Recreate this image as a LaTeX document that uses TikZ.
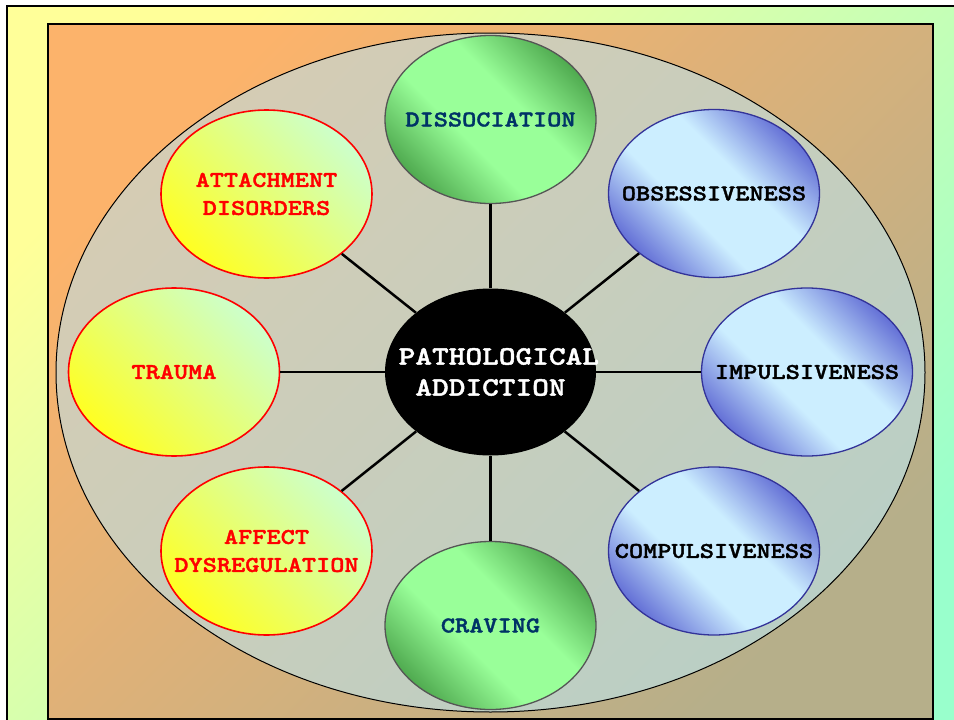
\documentclass[tikz,border=0pt]{standalone}
\usepackage{fontspec}
\newfontfamily\slabmono{lmmonolt10-bold}[Extension=.otf,FakeStretch=1.2,FakeBold=1.6]
\usepackage{tikz}
\usetikzlibrary{shapes.geometric}

\definecolor{bgyellow}{HTML}{FFFF99}
\definecolor{bgaqua}{HTML}{99FFCC}
\definecolor{panelorange}{HTML}{FCB36B}
\definecolor{paneltan}{HTML}{B6AF8A}
\definecolor{ovaltop}{HTML}{D5CCB4}
\definecolor{ovalbottom}{HTML}{BACFC5}
\definecolor{bluedark}{HTML}{5F6AD4}
\definecolor{bluelight}{HTML}{CCEEFF}
\definecolor{blueline}{HTML}{333399}
\definecolor{greendark}{HTML}{4CA64C}
\definecolor{greenlight}{HTML}{99FF99}
\definecolor{greenline}{HTML}{555555}
\definecolor{greentext}{HTML}{003366}
\definecolor{yellowhot}{HTML}{FFFF22}
\definecolor{yellowpale}{HTML}{CCFFCC}

\pgfdeclareverticalshading{blueband}{100bp}{color(0bp)=(bluedark); color(24bp)=(bluedark); color(42bp)=(bluelight); color(58bp)=(bluelight); color(76bp)=(bluedark); color(100bp)=(bluedark)}
\pgfdeclareverticalshading{greenband}{100bp}{color(0bp)=(greendark); color(24bp)=(greendark); color(42bp)=(greenlight); color(58bp)=(greenlight); color(76bp)=(greendark); color(100bp)=(greendark)}

\begin{document}
\begin{tikzpicture}[x=1pt,y=-1pt,
    bubble/.style={ellipse,minimum width=211pt,minimum height=168pt,inner sep=0pt},
    word/.style={align=center,inner sep=0pt,font=\slabmono\fontsize{22.5}{28}\selectfont},
    yellowbubble/.style={bubble,draw=red,line width=1.6pt,
        top color=yellowpale,bottom color=yellowhot,shading angle=-45},
    bluebubble/.style={bubble,draw=blueline,line width=1.3pt,
        shading=blueband,shading angle=-45},
    greenbubble/.style={bubble,draw=greenline,line width=1.3pt,
        shading=greenband,shading angle=-45},
    spoke/.style={line width=2.5pt,black}]
        \useasboundingbox (0,0) rectangle (954,720);
        \clip (0,0) rectangle (954,720);
        \fill[white] (0,0) rectangle (954,720);
        % frame and panel
        \draw[line width=2pt,top color=bgyellow,bottom color=bgaqua,shading angle=45] (7,6) rectangle (975,745);
        \draw[line width=1.2pt,top color=panelorange,bottom color=paneltan,shading angle=45] (48,24) rectangle (933,719);
        \draw[line width=1pt,top color=ovaltop,bottom color=ovalbottom,shading angle=45] (490.5,372.5) ellipse [x radius=434.5,y radius=339.5];
        % centre
        \node[bubble,fill=black,minimum height=167pt,
            label={[word,text=white,font=\slabmono\fontsize{26.5}{31}\selectfont]center:{\hspace*{0.63em}PATHOLOGICAL\\ADDICTION}}]
            (addict) at (490.5,372) {};
        % left side
        \node[yellowbubble,label={[word,text=red]center:{ATTACHMENT\\DISORDERS}}] (attach) at (266.5,194) {};
        \node[yellowbubble,label={[word,text=red]center:TRAUMA}] (trauma) at (174,372) {};
        \node[yellowbubble,label={[word,text=red]center:{AFFECT\\DYSREGULATION}}] (affect) at (266.5,551) {};
        % top and bottom
        \node[greenbubble,label={[word,text=greentext]center:DISSOCIATION}] (dissoc) at (490.5,119.5) {};
        \node[greenbubble,label={[word,text=greentext]center:CRAVING}] (craving) at (490.5,625.5) {};
        % right side
        \node[bluebubble,label={[word]center:OBSESSIVENESS}] (obsess) at (714,193.5) {};
        \node[bluebubble,label={[word]center:IMPULSIVENESS}] (impuls) at (807,372) {};
        \node[bluebubble,label={[word]center:COMPULSIVENESS}] (compuls) at (714,551) {};
        \foreach \n in {attach,trauma,affect,dissoc,craving,obsess,impuls,compuls}
            \draw[spoke] (addict) -- (\n);
    \end{tikzpicture}
\end{document}
